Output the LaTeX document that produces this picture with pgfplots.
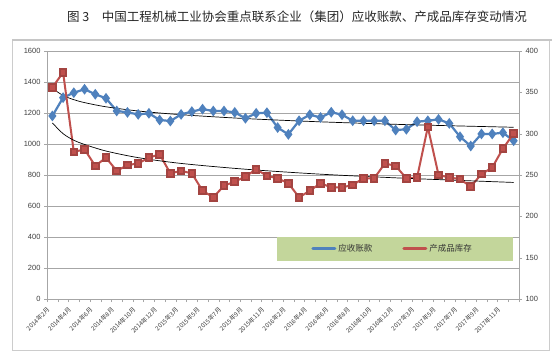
\documentclass[border=0pt]{standalone}
\usepackage{pgfplots}
\usepackage{pgfplotstable}
\pgfplotsset{compat=1.18}
\usepackage{fontspec}
\setmainfont{Liberation Sans}
\newfontfamily\cjk{Noto Sans CJK SC}
\definecolor{sblue}{HTML}{4F81BD}
\definecolor{sred}{HTML}{C0504D}
\definecolor{lgreen}{HTML}{C3D69B}
\definecolor{gridc}{HTML}{A6A6A6}
\definecolor{txt}{HTML}{404040}

\pgfplotstableread{
i v
0 1181
1 1299
2 1331
3 1353
4 1321
5 1295
6 1213
7 1204
8 1191
9 1198
10 1155
11 1148
12 1191
13 1209
14 1225
15 1213
16 1213
17 1204
18 1166
19 1198
20 1202
21 1106
22 1062
23 1150
24 1189
25 1171
26 1205
27 1189
28 1150
29 1150
30 1150
31 1150
32 1090
33 1095
34 1144
35 1150
36 1159
37 1133
38 1047
39 987
40 1065
41 1065
42 1073
43 1021
}\receivables

\pgfplotstableread{
i v
0 356
1 374
2 278
3 281
4 261
5 271
6 255
7 262
8 264
9 271
10 275
11 252
12 255
13 252
14 231
15 223
16 237
17 242
18 248
19 257
20 249
21 246
22 240
23 223
24 231
25 240
26 235
27 235
28 238
29 246
30 246
31 264
32 261
33 246
34 247
35 308
36 250
37 247
38 245
39 236
40 251
41 259
42 282
43 300
}\inventory

\pgfplotstableread{
i v
0 1359
1 1313
2 1286
3 1267
5 1240
8 1213
12 1189
18 1164
25 1143
33 1125
43 1108
}\trendA

\pgfplotstableread{
i v
0 313
1 300
2 292
3 287
5 279
8 271
12 264
18 257
25 251
33 246
43 241
}\trendB

\begin{document}
\begin{tikzpicture}[x=1bp,y=1bp]
\useasboundingbox (0,0) rectangle (552,354);
\fill[white] (0,0) rectangle (552,354);
\draw[gray!40, line width=0.8bp] (12,4) rectangle (549,314);
\draw[gray!45, line width=2.5bp] (12,314) -- (552,314);
\node[font=\cjk\fontsize{12.5bp}{14bp}\selectfont, text=black!85] at (297,337) {图 3\quad 中国工程机械工业协会重点联系企业（集团）应收账款、产成品库存变动情况};

\begin{axis}[
  at={(47bp,55bp)}, anchor=south west,
  width=472bp, height=248bp, scale only axis,
  xmin=-0.5, xmax=43.5, ymin=0, ymax=1600,
  ytick={0,200,...,1600},
  axis x line*=bottom, axis y line*=left,
  x axis line style={-, gridc}, y axis line style={-, gridc},
  ymajorgrids, grid style={gridc, line width=0.6bp},
  xtick={0,2,...,42},
  xticklabels={2014年2月,2014年4月,2014年6月,2014年8月,2014年10月,2014年12月,2015年3月,2015年5月,2015年7月,2015年9月,2015年11月,2016年2月,2016年4月,2016年6月,2016年8月,2016年10月,2016年12月,2017年3月,2017年5月,2017年7月,2017年9月,2017年11月},
  major x tick style={draw=none},
  minor xtick={-0.5,0.5,...,43.5},
  minor x tick style={gridc},
  minor tick length=3bp,
  major tick length=3bp,
  tick align=outside,
  y tick style={gridc},
  x tick label style={rotate=45, anchor=east, xshift=-4bp, yshift=-2bp, font=\cjk\fontsize{6.2bp}{7bp}\selectfont, text=txt},
  y tick label style={font=\fontsize{7.5bp}{9bp}\selectfont, text=txt},
  /pgf/number format/assume math mode=true,
  /pgf/number format/1000 sep={},
  clip=false,
]
\fill[lgreen] (rel axis cs:0.487,0.153) rectangle (rel axis cs:0.987,0.250);
\addplot[sblue, line width=2.2bp, mark=diamond*, mark size=3.6bp, mark options={solid, fill=sblue}] table[x=i, y=v] {\receivables};
\addplot[black, line width=0.7bp, smooth] table[x=i, y=v] {\trendA};
\end{axis}

\begin{axis}[
  at={(47bp,55bp)}, anchor=south west,
  width=472bp, height=248bp, scale only axis,
  xmin=-0.5, xmax=43.5, ymin=100, ymax=400,
  ytick={100,150,...,400},
  axis x line=none, axis y line*=right,
  y axis line style={-, gridc},
  y tick style={gridc},
  major tick length=3bp,
  tick align=outside,
  y tick label style={font=\fontsize{7.5bp}{9bp}\selectfont, text=txt},
  /pgf/number format/assume math mode=true,
  clip=false,
  legend style={at={(rel axis cs:0.732,0.202)}, anchor=center, draw=none, fill=none,
    font=\cjk\fontsize{8.5bp}{10bp}\selectfont, text=black!80,
    /tikz/every even column/.append style={column sep=28bp}},
  legend columns=2,
  legend image code/.code={\draw[line width=3bp, line cap=round, #1] (0bp,0bp) -- (22bp,0bp);},
]
\addlegendimage{sblue}
\addlegendentry{应收账款}
\addplot[sred, line width=2bp, mark=square*, mark size=3.3bp, mark options={solid, fill=sred, draw=sred!85!black}] table[x=i, y=v] {\inventory};
\addlegendentry{产成品库存}
\addplot[black, line width=0.7bp, smooth, forget plot] table[x=i, y=v] {\trendB};
\end{axis}
\end{tikzpicture}
\end{document}
